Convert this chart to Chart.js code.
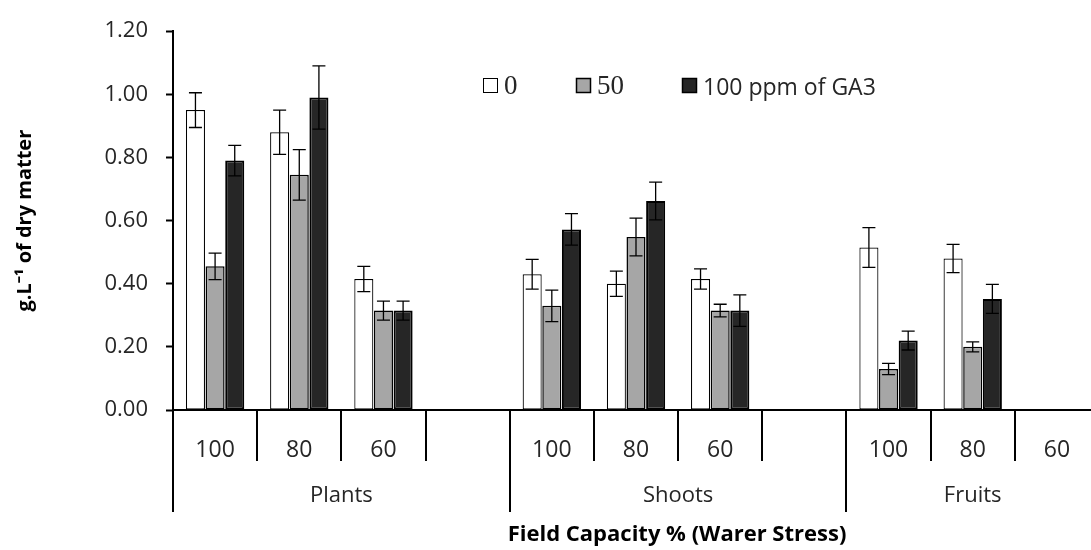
<!DOCTYPE html>
<html>
<head>
<meta charset="utf-8">
<script src="https://cdn.jsdelivr.net/npm/chart.js@4"></script>
<style>
  html, body { margin: 0; padding: 0; overflow: hidden; background: #fff; }
  #wrap { width: 1100px; height: 550px; }
</style>
</head>
<body>
<div id="wrap"><canvas id="myChart"></canvas></div>
<script>
// data
const groups = ["Plants", "Shoots", "Fruits"];
const groupSizes = [4, 4, 3];
const labels = ["100", "80", "60", "", "100", "80", "60", "", "100", "80", "60"];
const seriesNames = ["0", "50", "100 ppm of GA3"];

const ga0 = [0.95, 0.88, 0.415, null, 0.43, 0.40, 0.415, null, 0.515, 0.48, null];
const ga50 = [0.455, 0.745, 0.315, null, 0.33, 0.548, 0.315, null, 0.13, 0.20, null];
const ga100 = [0.79, 0.99, 0.315, null, 0.572, 0.662, 0.315, null, 0.22, 0.352, null];

const err0 = [0.055, 0.07, 0.04, null, 0.047, 0.04, 0.032, null, 0.063, 0.045, null];
const err50 = [0.042, 0.08, 0.03, null, 0.05, 0.06, 0.02, null, 0.018, 0.016, null];
const err100 = [0.048, 0.1, 0.03, null, 0.05, 0.06, 0.05, null, 0.03, 0.046, null];

const yTicks = [0, 0.2, 0.4, 0.6, 0.8, 1.0, 1.2];

const fills = ["#ffffff", "#a6a6a6", "#262626"];
const borders = [1.2, 1.5, 2];
const textColor = "#262626";
const sans = "'Open Sans', sans-serif";

const errors = [err0, err50, err100];

// error bars, multi-level axis, legend, x title
const extras = {
  id: "extras",
  afterDraw(chart) {
    const ctx = chart.ctx;
    const xs = chart.scales.x;
    const ys = chart.scales.y;
    const area = chart.chartArea;
    ctx.save();

    // error bars
    ctx.strokeStyle = "#000";
    ctx.lineWidth = 1.3;
    chart.data.datasets.forEach((ds, d) => {
      const meta = chart.getDatasetMeta(d);
      ds.data.forEach((v, i) => {
        const e = errors[d][i];
        if (v == null || e == null) return;
        const x = meta.data[i].x;
        const top = ys.getPixelForValue(v + e);
        const bot = ys.getPixelForValue(v - e);
        ctx.beginPath();
        ctx.moveTo(x, top); ctx.lineTo(x, bot);
        ctx.moveTo(x - 6.5, top); ctx.lineTo(x + 6.5, top);
        ctx.moveTo(x - 6.5, bot); ctx.lineTo(x + 6.5, bot);
        ctx.stroke();
      });
    });

    // category dividers
    const step = xs.getPixelForValue(1) - xs.getPixelForValue(0);
    const edge = i => xs.getPixelForValue(i) - step / 2;
    const groupStarts = [];
    let s = 0;
    groupSizes.forEach(n => { groupStarts.push(s); s += n; });
    ctx.lineWidth = 2;
    ctx.strokeStyle = "#000";
    for (let i = 0; i <= labels.length; i++) {
      const long = groupStarts.includes(i) || i === labels.length;
      const x = Math.round(edge(i));
      ctx.beginPath();
      ctx.moveTo(x, area.bottom);
      ctx.lineTo(x, area.bottom + (long ? 102 : 51));
      ctx.stroke();
    }

    // group labels
    ctx.fillStyle = textColor;
    ctx.font = "22px " + sans;
    ctx.textAlign = "center";
    ctx.textBaseline = "middle";
    groups.forEach((g, k) => {
      const a = edge(groupStarts[k]);
      const b = edge(groupStarts[k] + groupSizes[k]);
      ctx.fillText(g, (a + b) / 2, area.bottom + 86);
    });

    // x axis title
    ctx.font = "bold 22px " + sans;
    ctx.fillStyle = "#000";
    ctx.fillText("Field Capacity % (Warer Stress)", area.left + 504, 535);

    // legend
    const legendX = [483, 576, 682];
    ctx.textAlign = "left";
    ctx.textBaseline = "alphabetic";
    seriesNames.forEach((name, k) => {
      ctx.fillStyle = fills[k];
      ctx.fillRect(legendX[k], 78, 15, 15);
      ctx.lineWidth = k === 0 ? 1 : 1.5;
      ctx.strokeStyle = "#000";
      ctx.strokeRect(legendX[k] + 0.5, 78.5, 14, 14);
      ctx.fillStyle = textColor;
      ctx.font = k < 2 ? "27px 'Liberation Serif', serif" : "23px " + sans;
      ctx.fillText(name, legendX[k] + 21, k < 2 ? 94 : 95);
    });

    ctx.restore();
  }
};

const seriesData = [ga0, ga50, ga100];

new Chart(document.getElementById("myChart"), {
  type: "bar",
  data: {
    labels: labels,
    datasets: seriesNames.map((name, k) => ({
      label: name,
      data: seriesData[k],
      backgroundColor: fills[k],
      borderColor: "#000",
      borderWidth: borders[k],
      borderSkipped: false,
      barPercentage: 0.97,
      categoryPercentage: 0.7,
    })),
  },
  options: {
    responsive: true,
    maintainAspectRatio: false,
    animation: false,
    layout: { padding: { top: 21, right: 1, left: 0, bottom: 0 } },
    plugins: {
      legend: { display: false },
      tooltip: { enabled: false },
    },
    scales: {
      x: {
        grid: { display: false },
        border: { display: true, color: "#000", width: 2 },
        ticks: {
          color: textColor,
          font: { family: sans, size: 23 },
          padding: 19,
          autoSkip: false,
          maxRotation: 0,
        },
        afterFit: s => { s.height = 140; },
      },
      y: {
        min: 0,
        max: 1.2,
        afterBuildTicks: s => { s.ticks = yTicks.map(v => ({ value: v })); },
        grid: { drawOnChartArea: false, tickLength: 7, color: "#000", tickWidth: 2 },
        border: { display: true, color: "#000", width: 2 },
        ticks: {
          color: textColor,
          font: { family: sans, size: 22 },
          padding: 18,
          callback: v => Number(v).toFixed(2),
        },
        title: {
          display: true,
          text: "g.L⁻¹ of dry matter",
          color: "#000",
          font: { family: sans, size: 20, weight: "bold" },
          padding: { top: 13, bottom: 0 },
        },
        afterFit: s => { s.width = 173; },
      },
    },
  },
  plugins: [extras],
});
</script>
</body>
</html>
